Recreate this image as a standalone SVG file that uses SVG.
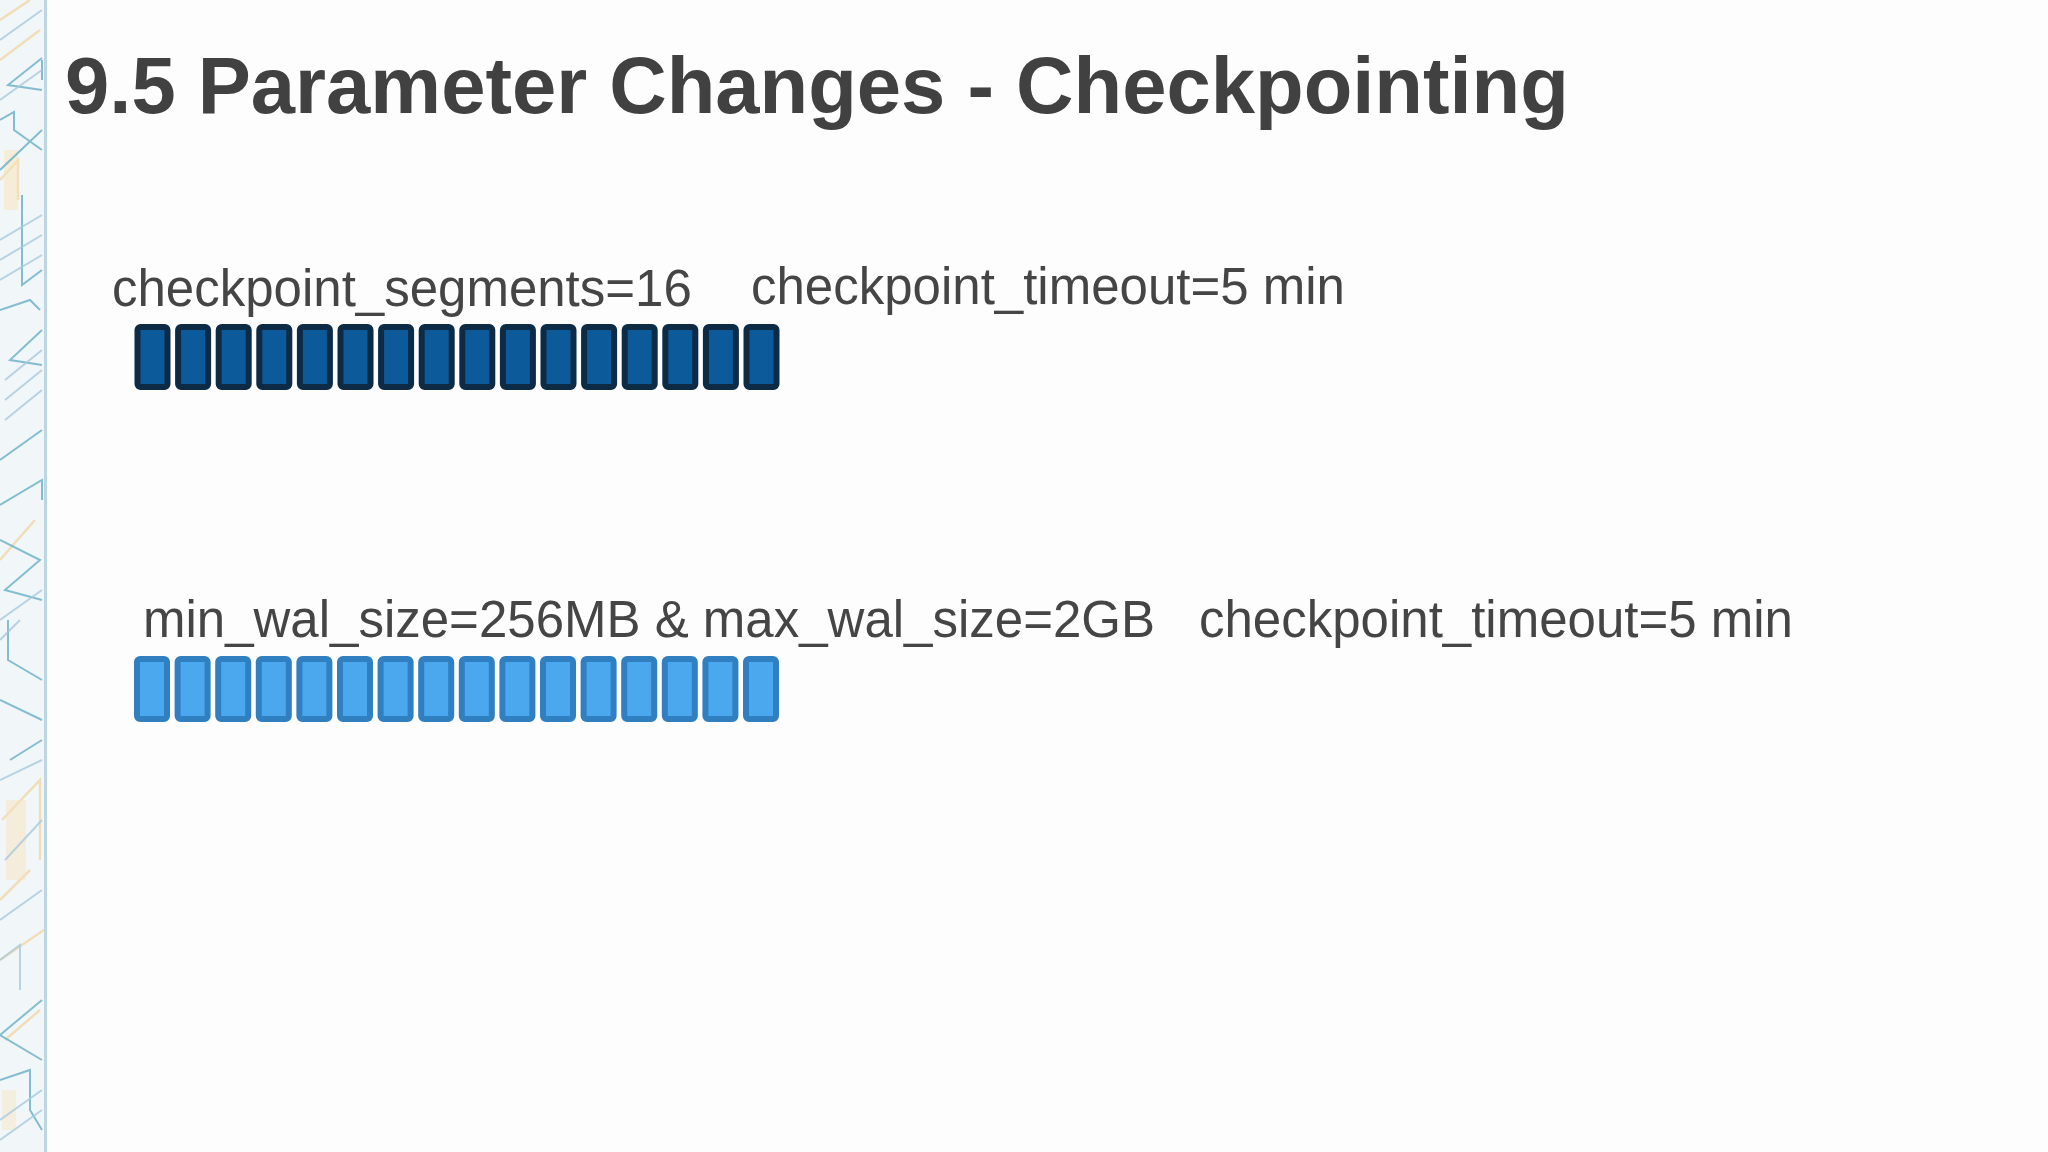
<svg xmlns="http://www.w3.org/2000/svg" width="2048" height="1152" viewBox="0 0 2048 1152">
  <defs>
    <style>
      .title { font-family: "Liberation Sans", Arial, sans-serif; font-weight: bold; font-size: 79.6px; fill: #414141; }
      .lbl { font-family: "Liberation Sans", Arial, sans-serif; font-size: 51px; fill: #454545; }
      .segA { fill: #0c5a99; stroke: #0e2b46; stroke-width: 6; }
      .segB { fill: #4ba8ef; stroke: #2f7fc1; stroke-width: 6; }
      .ct { fill: none; stroke: #5ea9c2; stroke-width: 2; opacity: 0.75; }
      .cb { fill: none; stroke: #a9c9dc; stroke-width: 2; opacity: 0.8; }
      .cy { fill: none; stroke: #f2cf8c; stroke-width: 2.5; opacity: 0.6; }
    </style>
    <g id="segRow">
      <rect x="137.5" y="3" width="30" height="60" rx="3"/>
      <rect x="178.1" y="3" width="30" height="60" rx="3"/>
      <rect x="218.7" y="3" width="30" height="60" rx="3"/>
      <rect x="259.3" y="3" width="30" height="60" rx="3"/>
      <rect x="299.9" y="3" width="30" height="60" rx="3"/>
      <rect x="340.5" y="3" width="30" height="60" rx="3"/>
      <rect x="381.1" y="3" width="30" height="60" rx="3"/>
      <rect x="421.7" y="3" width="30" height="60" rx="3"/>
      <rect x="462.3" y="3" width="30" height="60" rx="3"/>
      <rect x="502.9" y="3" width="30" height="60" rx="3"/>
      <rect x="543.5" y="3" width="30" height="60" rx="3"/>
      <rect x="584.1" y="3" width="30" height="60" rx="3"/>
      <rect x="624.7" y="3" width="30" height="60" rx="3"/>
      <rect x="665.3" y="3" width="30" height="60" rx="3"/>
      <rect x="705.9" y="3" width="30" height="60" rx="3"/>
      <rect x="746.5" y="3" width="30" height="60" rx="3"/>
    </g>
  </defs>

  <rect x="0" y="0" width="2048" height="1152" fill="#fdfdfd"/>

  <!-- left decorative border -->
  <g id="border">
    <rect x="0" y="0" width="46" height="1152" fill="#f1f6f9"/>
    <path class="cy" d="M0 20 L30 0 M0 60 L40 30 M0 180 L18 160 L18 200 M0 560 L35 520 M2 820 L40 780 L40 860 M0 900 L30 870 M0 960 L44 930 M5 1040 L40 1010"/>
    <rect x="4" y="150" width="14" height="60" fill="#f9e3b8" opacity="0.5"/>
    <rect x="6" y="800" width="20" height="80" fill="#f9e3b8" opacity="0.45"/>
    <rect x="2" y="1090" width="14" height="40" fill="#f9e3b8" opacity="0.4"/>
    <path class="ct" d="M42 58 L8 85 L42 90 M42 60 L42 80 M0 120 L14 112 L14 130 L42 150 M0 170 L42 130 M22 195 L22 285 L42 270 M0 310 L30 300 L40 310 M42 330 L10 360 L42 365 M0 460 L42 430 M0 505 L42 480 L42 500 M0 540 L40 560 L5 590 L42 600 M8 620 L8 660 L42 680 M0 700 L42 720 M42 740 L10 760 M42 1000 L0 1035 L42 1060 M0 1080 L30 1070 L30 1110 L42 1130"/>
    <path class="cb" d="M0 40 L42 10 M0 100 L42 70 M0 240 L42 215 M0 260 L42 235 M0 280 L42 255 M5 380 L42 350 M5 400 L42 370 M5 420 L42 390 M0 620 L42 590 M0 640 L20 620 M0 780 L42 760 M5 860 L42 820 M0 920 L42 890 M0 960 L20 945 L20 990 M0 1120 L42 1090 M0 1140 L42 1110"/>
    <rect x="44" y="0" width="3" height="1152" fill="#bcd6e2"/>
  </g>

  <g id="title">
    <text class="title" x="65" y="113">9.5 Parameter Changes - Checkpointing</text>
  </g>

  <g id="row-old">
    <text class="lbl" x="112" y="306">checkpoint_segments=16</text>
    <text class="lbl" x="751" y="304">checkpoint_timeout=5 min</text>
    <use href="#segRow" class="segA" x="0" y="324"/>
  </g>

  <g id="row-new">
    <text class="lbl" x="143" y="637">min_wal_size=256MB &amp; max_wal_size=2GB</text>
    <text class="lbl" x="1199" y="637">checkpoint_timeout=5 min</text>
    <use href="#segRow" class="segB" x="-0.5" y="656"/>
  </g>

  <g id="connectors"/>
</svg>
